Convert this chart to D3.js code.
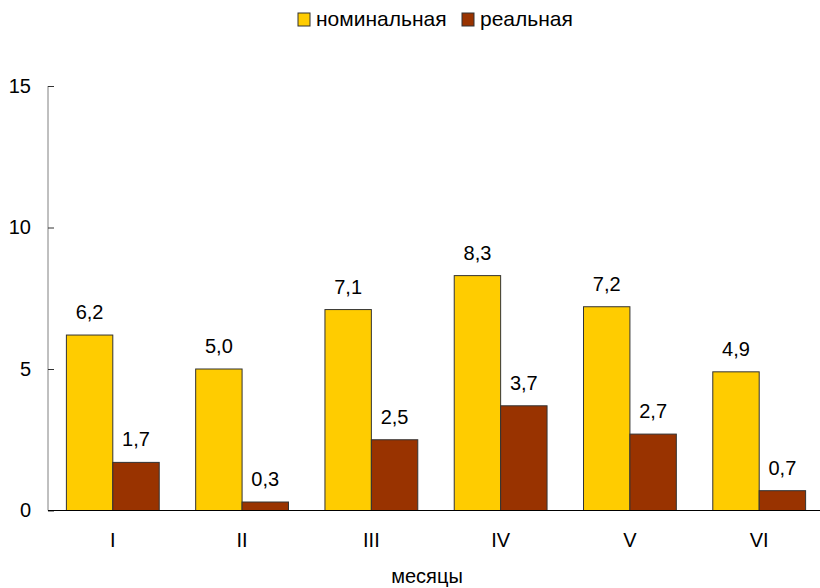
<!DOCTYPE html>
<html>
<head>
<meta charset="utf-8">
<script src="https://cdn.jsdelivr.net/npm/d3@7"></script>
<style>
  body { margin: 0; background: #fff; }
  svg { display: block; font-family: "Liberation Sans", Arial, sans-serif; }
</style>
</head>
<body>
<svg id="chart" width="820" height="588"></svg>
<script>
const categories = ["I", "II", "III", "IV", "V", "VI"];
const nominal = [6.2, 5.0, 7.1, 8.3, 7.2, 4.9];
const real = [1.7, 0.3, 2.5, 3.7, 2.7, 0.7];
const seriesNames = ["номинальная", "реальная"];
const yTicks = [0, 5, 10, 15];
const xTitle = "месяцы";

const colors = ["#FFCC00", "#993300"];
const svg = d3.select("#chart");

const x0 = 48, x1 = 825, yBottom = 510.5, yTop = 86;

const x = d3.scaleBand().domain(categories).range([x0 - 1, x1]).paddingInner(0.282).paddingOuter(0.15);
const xs = d3.scaleBand().domain([0, 1]).range([0, x.bandwidth()]);
const y = d3.scaleLinear().domain([0, 15]).range([yBottom, yTop]);

const data = categories.map((c, i) => ({ cat: c, vals: [nominal[i], real[i]] }));

// bars
const groups = svg.append("g").selectAll("g").data(data).join("g")
  .attr("transform", d => `translate(${x(d.cat)},0)`);

groups.selectAll("rect").data(d => d.vals.map((v, k) => ({ v, k }))).join("rect")
  .attr("x", d => xs(d.k))
  .attr("y", d => y(d.v))
  .attr("width", xs.bandwidth())
  .attr("height", d => y(0) - y(d.v))
  .attr("fill", d => colors[d.k])
  .attr("stroke", "#333")
  .attr("stroke-width", 1);

groups.selectAll("text").data(d => d.vals.map((v, k) => ({ v, k }))).join("text")
  .attr("x", d => xs(d.k) + xs.bandwidth() / 2)
  .attr("y", d => y(d.v) - 16)
  .attr("text-anchor", "middle")
  .attr("font-size", 20)
  .attr("fill", "#000")
  .text(d => d.v.toFixed(1).replace(".", ","));

// y axis
const yAxis = d3.axisLeft(y).tickValues(yTicks).tickSize(-6).tickPadding(17).tickFormat(d => d);
const ya = svg.append("g").attr("transform", `translate(${x0},0)`).call(yAxis);
ya.select(".domain").attr("stroke", "#808080").attr("d", `M0,${yTop}V${yBottom}`);
ya.selectAll(".tick line").attr("stroke", "#333");
ya.selectAll(".tick text").attr("font-size", 20).attr("font-family", "Liberation Sans, Arial, sans-serif").attr("fill", "#000");

// x axis
const xAxis = d3.axisBottom(x).tickSize(0).tickPadding(22);
const xa = svg.append("g").attr("transform", `translate(0,${yBottom})`).call(xAxis);
xa.select(".domain").attr("stroke", "#000").attr("d", `M${x0},0H820`);
xa.selectAll(".tick text").attr("font-size", 20).attr("font-family", "Liberation Sans, Arial, sans-serif").attr("fill", "#000");

svg.append("text")
  .attr("x", 427).attr("y", 583)
  .attr("text-anchor", "middle")
  .attr("font-size", 20)
  .text(xTitle);

// legend
const legX = [298, 462];
const leg = svg.append("g").selectAll("g").data(seriesNames).join("g")
  .attr("transform", (d, i) => `translate(${legX[i]},13)`);
leg.append("rect").attr("width", 12).attr("height", 13)
  .attr("fill", (d, i) => colors[i]).attr("stroke", "#333");
leg.append("text").attr("x", 18).attr("y", 13).attr("font-size", 21).text(d => d);
</script>
</body>
</html>
